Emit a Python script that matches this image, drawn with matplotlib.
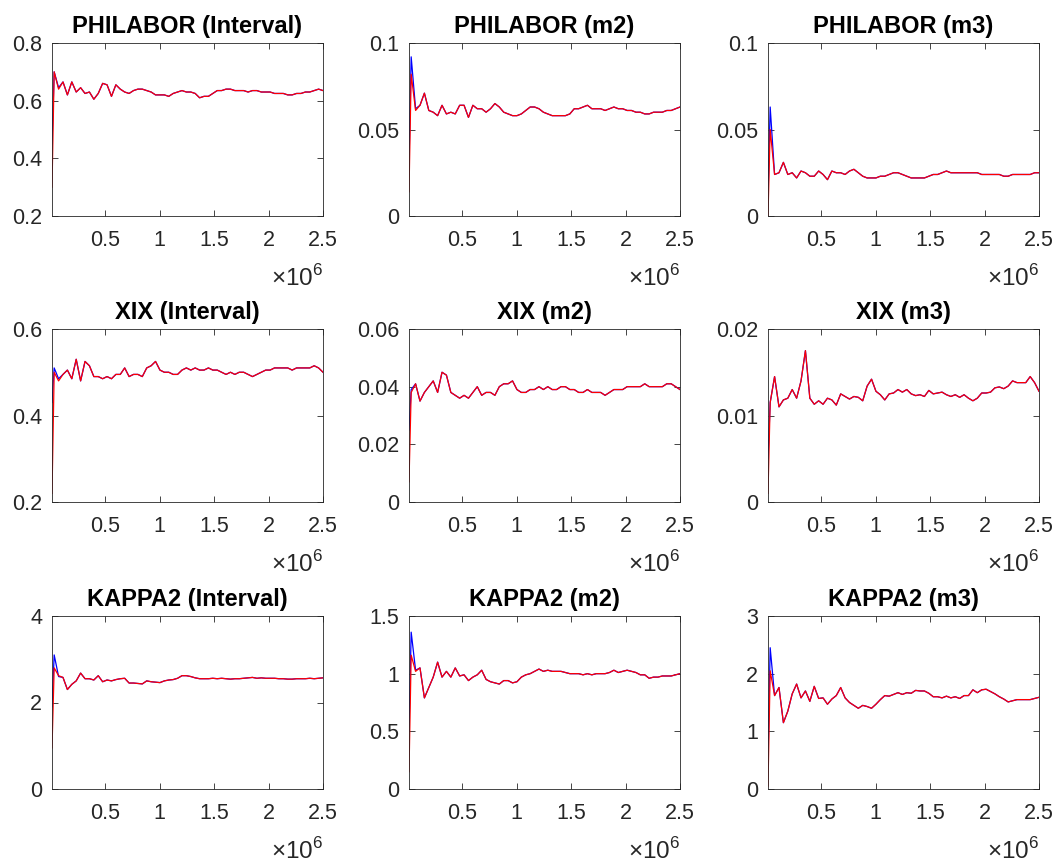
import numpy as np
import matplotlib
matplotlib.use("Agg")
from matplotlib import pyplot as plt

plt.rcParams['font.family'] = ['Liberation Sans', 'DejaVu Sans']
plt.rcParams['mathtext.fontset'] = 'custom'
plt.rcParams['mathtext.rm'] = 'Liberation Sans'

# sample counts (first point, then a regular grid up to 2.5e6)
n_samples = np.concatenate(([1e4], np.linspace(3e4, 2.5e6, 62)))

philabor_interval = [0.30, 0.70, 0.64, 0.665, 0.62, 0.665, 0.63, 0.645, 0.625, 0.63,
                     0.605, 0.625, 0.66, 0.655, 0.615, 0.655, 0.64, 0.63, 0.625, 0.635,
                     0.64, 0.64, 0.635, 0.63, 0.62, 0.62, 0.62, 0.615, 0.625, 0.63,
                     0.635, 0.63, 0.63, 0.625, 0.61, 0.615, 0.615, 0.625, 0.635, 0.635,
                     0.64, 0.64, 0.635, 0.635, 0.635, 0.63, 0.635, 0.635, 0.63, 0.63,
                     0.63, 0.625, 0.625, 0.625, 0.62, 0.62, 0.625, 0.625, 0.63, 0.63,
                     0.635, 0.64, 0.635]
philabor_m2 = [0.014, 0.082, 0.061, 0.064, 0.071, 0.061, 0.060, 0.058, 0.064, 0.059,
               0.060, 0.059, 0.064, 0.064, 0.057, 0.064, 0.062, 0.062, 0.060, 0.062,
               0.065, 0.063, 0.060, 0.059, 0.058, 0.058, 0.059, 0.061, 0.063, 0.063,
               0.062, 0.060, 0.059, 0.058, 0.058, 0.058, 0.058, 0.059, 0.062, 0.062,
               0.063, 0.064, 0.062, 0.062, 0.062, 0.061, 0.062, 0.063, 0.062, 0.062,
               0.061, 0.061, 0.060, 0.060, 0.059, 0.059, 0.060, 0.060, 0.060, 0.061,
               0.061, 0.062, 0.063]
philabor_m3 = [0.0, 0.050, 0.024, 0.025, 0.031, 0.024, 0.025, 0.022, 0.026, 0.025,
               0.023, 0.023, 0.026, 0.024, 0.021, 0.026, 0.025, 0.025, 0.024, 0.026,
               0.027, 0.025, 0.023, 0.022, 0.022, 0.022, 0.023, 0.023, 0.024, 0.025,
               0.025, 0.024, 0.023, 0.022, 0.022, 0.022, 0.022, 0.023, 0.024, 0.024,
               0.025, 0.026, 0.025, 0.025, 0.025, 0.025, 0.025, 0.025, 0.025, 0.024,
               0.024, 0.024, 0.024, 0.024, 0.023, 0.023, 0.024, 0.024, 0.024, 0.024,
               0.024, 0.025, 0.025]
xix_interval = [0.22, 0.50, 0.48, 0.495, 0.505, 0.485, 0.53, 0.48, 0.525, 0.515,
                0.49, 0.49, 0.485, 0.49, 0.485, 0.495, 0.495, 0.51, 0.49, 0.495,
                0.495, 0.49, 0.51, 0.515, 0.525, 0.505, 0.50, 0.50, 0.495, 0.495,
                0.505, 0.51, 0.505, 0.51, 0.505, 0.505, 0.51, 0.505, 0.505, 0.50,
                0.495, 0.50, 0.495, 0.50, 0.50, 0.495, 0.49, 0.495, 0.50, 0.505,
                0.505, 0.51, 0.51, 0.51, 0.51, 0.505, 0.51, 0.51, 0.51, 0.51,
                0.515, 0.51, 0.50]
xix_m2 = [0.007, 0.038, 0.041, 0.035, 0.038, 0.040, 0.042, 0.038, 0.045, 0.044,
          0.038, 0.037, 0.036, 0.037, 0.036, 0.038, 0.040, 0.037, 0.038, 0.038,
          0.037, 0.040, 0.041, 0.041, 0.042, 0.039, 0.038, 0.038, 0.039, 0.039,
          0.040, 0.039, 0.040, 0.039, 0.039, 0.040, 0.040, 0.039, 0.039, 0.038,
          0.038, 0.039, 0.038, 0.038, 0.038, 0.037, 0.038, 0.039, 0.039, 0.039,
          0.040, 0.040, 0.040, 0.040, 0.041, 0.040, 0.040, 0.040, 0.040, 0.041,
          0.041, 0.040, 0.039]
xix_m3 = [0.001, 0.0115, 0.0145, 0.0110, 0.0118, 0.0120, 0.0130, 0.0120, 0.0140, 0.0175,
          0.0120, 0.0113, 0.0117, 0.0113, 0.0120, 0.0118, 0.0112, 0.0125, 0.0122, 0.0119,
          0.0122, 0.0121, 0.0117, 0.0134, 0.0142, 0.0128, 0.0124, 0.0118, 0.0125, 0.0126,
          0.0130, 0.0127, 0.0130, 0.0125, 0.0123, 0.0124, 0.0122, 0.0129, 0.0125, 0.0126,
          0.0127, 0.0124, 0.0122, 0.0124, 0.0121, 0.0124, 0.0120, 0.0117, 0.0120, 0.0126,
          0.0126, 0.0127, 0.0132, 0.0133, 0.0131, 0.0134, 0.0140, 0.0138, 0.0138, 0.0138,
          0.0145, 0.0138, 0.0128]
kappa2_interval = [0.95, 2.80, 2.62, 2.58, 2.30, 2.42, 2.50, 2.68, 2.55, 2.55,
                   2.52, 2.62, 2.48, 2.52, 2.50, 2.53, 2.55, 2.56, 2.45, 2.45,
                   2.44, 2.43, 2.50, 2.48, 2.47, 2.46, 2.50, 2.52, 2.53, 2.56,
                   2.62, 2.62, 2.60, 2.57, 2.55, 2.55, 2.55, 2.56, 2.55, 2.56,
                   2.55, 2.54, 2.55, 2.55, 2.56, 2.57, 2.58, 2.56, 2.57, 2.56,
                   2.56, 2.56, 2.55, 2.55, 2.54, 2.54, 2.55, 2.55, 2.55, 2.56,
                   2.55, 2.56, 2.57]
kappa2_m2 = [0.15, 1.16, 1.02, 1.05, 0.79, 0.88, 0.97, 1.10, 0.97, 1.02,
             0.97, 1.05, 0.98, 0.99, 0.94, 0.97, 0.99, 1.03, 0.95, 0.93,
             0.92, 0.91, 0.94, 0.94, 0.92, 0.93, 0.97, 0.99, 1.00, 1.02,
             1.04, 1.02, 1.03, 1.02, 1.02, 1.02, 1.01, 1.00, 1.00, 1.00,
             0.99, 1.00, 0.99, 1.00, 1.00, 1.00, 1.01, 1.03, 1.01, 1.02,
             1.03, 1.02, 1.01, 0.99, 0.99, 0.96, 0.97, 0.97, 0.98, 0.98,
             0.98, 0.99, 1.00]
kappa2_m3 = [0.05, 2.05, 1.62, 1.76, 1.15, 1.35, 1.65, 1.82, 1.58, 1.70,
             1.52, 1.78, 1.57, 1.58, 1.47, 1.56, 1.62, 1.76, 1.58, 1.50,
             1.45, 1.40, 1.45, 1.43, 1.40, 1.47, 1.55, 1.62, 1.61, 1.64,
             1.67, 1.64, 1.67, 1.66, 1.71, 1.70, 1.70, 1.66, 1.60, 1.60,
             1.58, 1.61, 1.58, 1.60, 1.57, 1.62, 1.62, 1.72, 1.67, 1.72,
             1.73, 1.69, 1.65, 1.60, 1.56, 1.51, 1.53, 1.55, 1.55, 1.55,
             1.55, 1.57, 1.59]

# the blue run only differs from the red one over the first few samples
blue_heads = {
    'PHILABOR (Interval)': [0.45, 0.70, 0.645],
    'PHILABOR (m2)': [0.03, 0.092, 0.062],
    'PHILABOR (m3)': [0.01, 0.063, 0.024],
    'XIX (Interval)': [0.43, 0.51, 0.485],
    'XIX (m2)': [0.025, 0.039, 0.041],
    'XIX (m3)': [0.005, 0.0115, 0.0145],
    'KAPPA2 (Interval)': [1.9, 3.1, 2.6],
    'KAPPA2 (m2)': [0.5, 1.36, 1.03],
    'KAPPA2 (m3)': [0.5, 2.45, 1.62],
}

titles = ['PHILABOR (Interval)', 'PHILABOR (m2)', 'PHILABOR (m3)',
          'XIX (Interval)', 'XIX (m2)', 'XIX (m3)',
          'KAPPA2 (Interval)', 'KAPPA2 (m2)', 'KAPPA2 (m3)']
series = [philabor_interval, philabor_m2, philabor_m3,
          xix_interval, xix_m2, xix_m3,
          kappa2_interval, kappa2_m2, kappa2_m3]
ylims = [(0.2, 0.8), (0, 0.1), (0, 0.1),
         (0.2, 0.6), (0, 0.06), (0, 0.02),
         (0, 4), (0, 1.5), (0, 3)]
yticks = [[0.2, 0.4, 0.6, 0.8], [0, 0.05, 0.1], [0, 0.05, 0.1],
          [0.2, 0.4, 0.6], [0, 0.02, 0.04, 0.06], [0, 0.01, 0.02],
          [0, 2, 4], [0, 0.5, 1, 1.5], [0, 1, 2, 3]]
xticks = [0.5e6, 1e6, 1.5e6, 2e6, 2.5e6]
xticklabels = ['0.5', '1', '1.5', '2', '2.5']

W, H = 1059, 866
col_left = [52, 409, 768]
row_top = [43, 329, 616]
ax_w, ax_h = 271, 173
dark = '#262626'

fig = plt.figure(figsize=(W / 100, H / 100), dpi=100)

for k in range(9):
    r, c = divmod(k, 3)
    ax = fig.add_axes([col_left[c] / W, 1 - (row_top[r] + ax_h) / H, ax_w / W, ax_h / H])
    red = np.array(series[k])
    blue = red.copy()
    head = blue_heads[titles[k]]
    blue[:len(head)] = head
    ax.plot(n_samples, blue, color='blue', lw=0.9)
    ax.plot(n_samples, red, color='red', lw=0.9)
    ax.set_xlim(n_samples[0], 2.5e6)
    ax.set_ylim(*ylims[k])
    ax.set_xticks(xticks)
    ax.set_xticklabels(xticklabels)
    ax.set_yticks(yticks[k])
    ax.set_yticklabels(['%g' % v for v in yticks[k]])
    ax.tick_params(direction='in', top=True, right=True, length=4, width=0.6,
                   colors=dark, labelsize=15.5)
    ax.tick_params(axis='x', pad=10)
    ax.tick_params(axis='y', pad=7)
    for s in ax.spines.values():
        s.set_color(dark)
        s.set_linewidth(0.6)
    ax.set_title(titles[k], fontsize=17, fontweight='bold', pad=7)
    ax.text(1.0, -0.285, r'$\times10^{6}$', transform=ax.transAxes,
            ha='right', va='top', fontsize=17.5, color=dark)

plt.savefig('out.png', dpi=100)
